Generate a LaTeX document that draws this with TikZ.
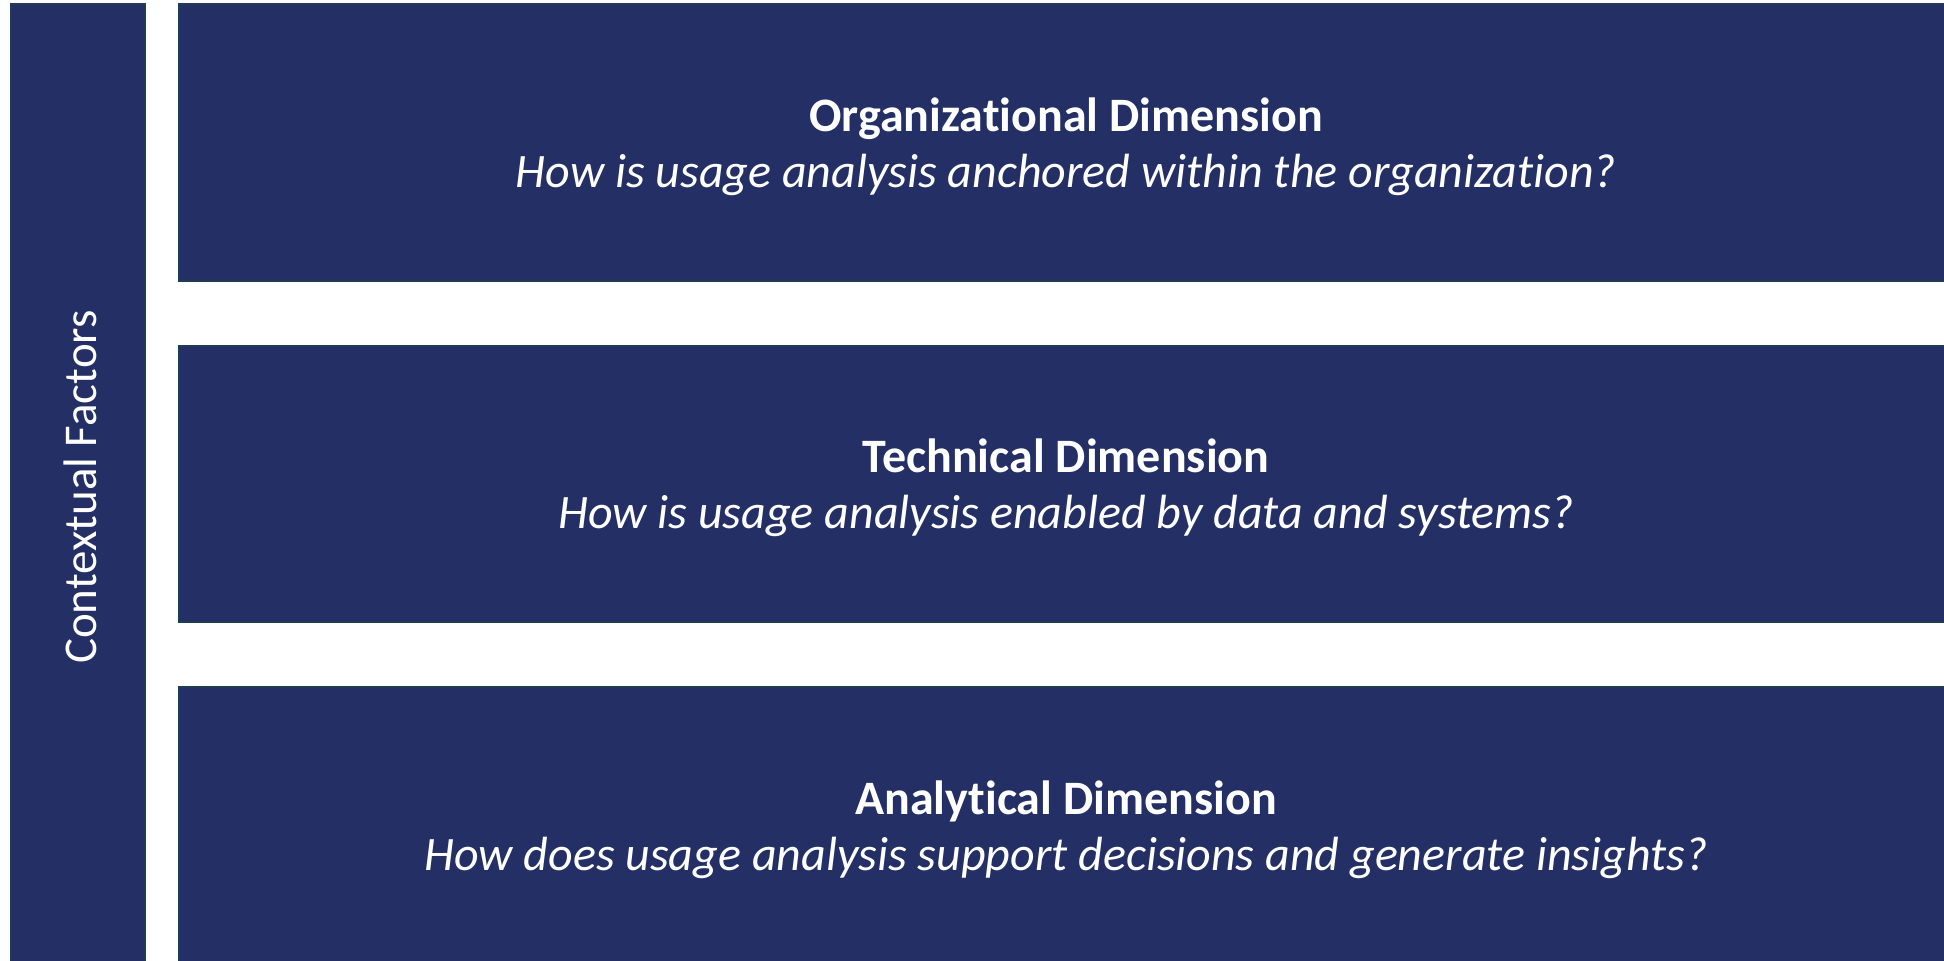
\documentclass[tikz,border=0pt]{standalone}
\usepackage{fontspec}
\setmainfont[Ligatures=NoCommon]{Carlito}
\definecolor{boxfill}{RGB}{36,47,102}
\definecolor{boxline}{RGB}{32,60,82}
\begin{document}
\begin{tikzpicture}[x=1pt,y=-1pt,
  panel/.style={fill=boxfill,draw=boxline,line width=1.2pt},
  paneltext/.style={text=white,align=center,font=\fontsize{48}{56}\selectfont,inner sep=0pt}]
\useasboundingbox[fill=white] (0,0) rectangle (1944,961);
\draw[panel] (11,4) rectangle (145,966);
\draw[panel] (179,4) rectangle (1950,281);
\draw[panel] (179,346) rectangle (1950,622);
\draw[panel] (179,687) rectangle (1950,966);
\node[paneltext,rotate=90,font=\fontsize{47}{56}\selectfont] (ctx) at (80,487) {Contextual Factors};
\node[paneltext] (org) at (1066,147) {\textbf{Organizational Dimension}\\\textit{How is usage analysis anchored within the organization?}};
\node[paneltext] (tech) at (1066,488) {\textbf{Technical Dimension}\\\textit{How is usage analysis enabled by data and systems?}};
\node[paneltext] (ana) at (1066,830) {\textbf{Analytical Dimension}\\\textit{How does usage analysis support decisions and generate insights?}};
\end{tikzpicture}
\end{document}
